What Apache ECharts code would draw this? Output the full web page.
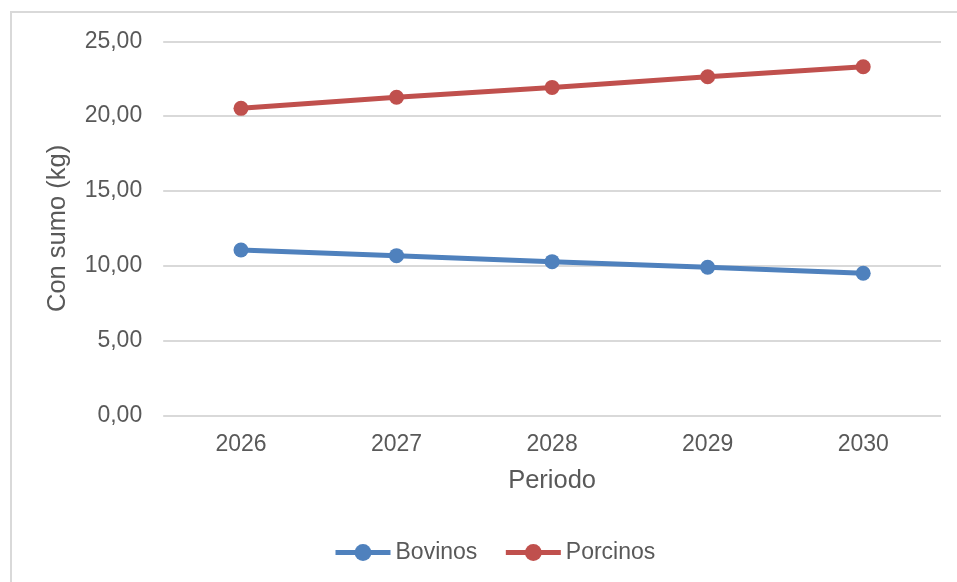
<!DOCTYPE html>
<html>
<head>
<meta charset="utf-8">
<script src="https://cdn.jsdelivr.net/npm/echarts@6/dist/echarts.min.js"></script>
<style>
html,body{margin:0;padding:0;background:#fff;}
#chart{width:957px;height:582px;}
</style>
</head>
<body>
<div id="chart"></div>
<script>
const categories = ['2026', '2027', '2028', '2029', '2030'];
const bovinos = [11.06, 10.68, 10.28, 9.90, 9.50];
const porcinos = [20.52, 21.26, 21.92, 22.63, 23.30];
const yTicks = { min: 0, max: 25, interval: 5 };

const FONT = '"Liberation Sans", Arial, sans-serif';
const TXT = '#595959';
const chart = echarts.init(document.getElementById('chart'), null, { renderer: 'canvas' });
chart.setOption({
  animation: false,
  backgroundColor: '#fff',
  textStyle: { fontFamily: FONT },
  graphic: [{
    type: 'rect', silent: true, z: -1,
    shape: { x: 11, y: 12, width: 1000, height: 700 },
    style: { fill: 'none', stroke: '#d9d9d9', lineWidth: 2 }
  }],
  grid: { left: 163.2, right: 16, top: 41.3, bottom: 166.5, containLabel: false },
  legend: {
    left: 333, top: 541, padding: 0,
    itemWidth: 55, itemHeight: 21, itemGap: 26,
    lineStyle: { width: 5 },
    textStyle: { color: TXT, fontSize: 23, fontFamily: FONT },
    data: ['Bovinos', 'Porcinos']
  },
  xAxis: {
    type: 'category', data: categories, boundaryGap: true,
    name: 'Periodo', nameLocation: 'middle', nameGap: 52.5,
    nameTextStyle: { color: TXT, fontSize: 25.5, fontFamily: FONT },
    axisLine: { show: false }, axisTick: { show: false },
    axisLabel: { color: TXT, fontSize: 23, margin: 18, fontFamily: FONT },
    splitLine: { show: false }
  },
  yAxis: {
    type: 'value', min: yTicks.min, max: yTicks.max, interval: yTicks.interval,
    name: 'Con sumo (kg)', nameLocation: 'middle', nameGap: 92,
    nameTextStyle: { color: TXT, fontSize: 25.5, fontFamily: FONT },
    axisLine: { show: false }, axisTick: { show: false },
    axisLabel: { color: TXT, fontSize: 23, margin: 21, fontFamily: FONT,
      formatter: v => v.toFixed(2).replace('.', ',') },
    splitLine: { lineStyle: { color: '#d9d9d9', width: 2 } }
  },
  series: [
    { name: 'Bovinos', type: 'line', data: bovinos, symbol: 'circle', symbolSize: 15,
      itemStyle: { color: '#4f81bd' }, lineStyle: { color: '#4f81bd', width: 5 } },
    { name: 'Porcinos', type: 'line', data: porcinos, symbol: 'circle', symbolSize: 15,
      itemStyle: { color: '#c0504d' }, lineStyle: { color: '#c0504d', width: 5 } }
  ]
});
</script>
</body>
</html>
